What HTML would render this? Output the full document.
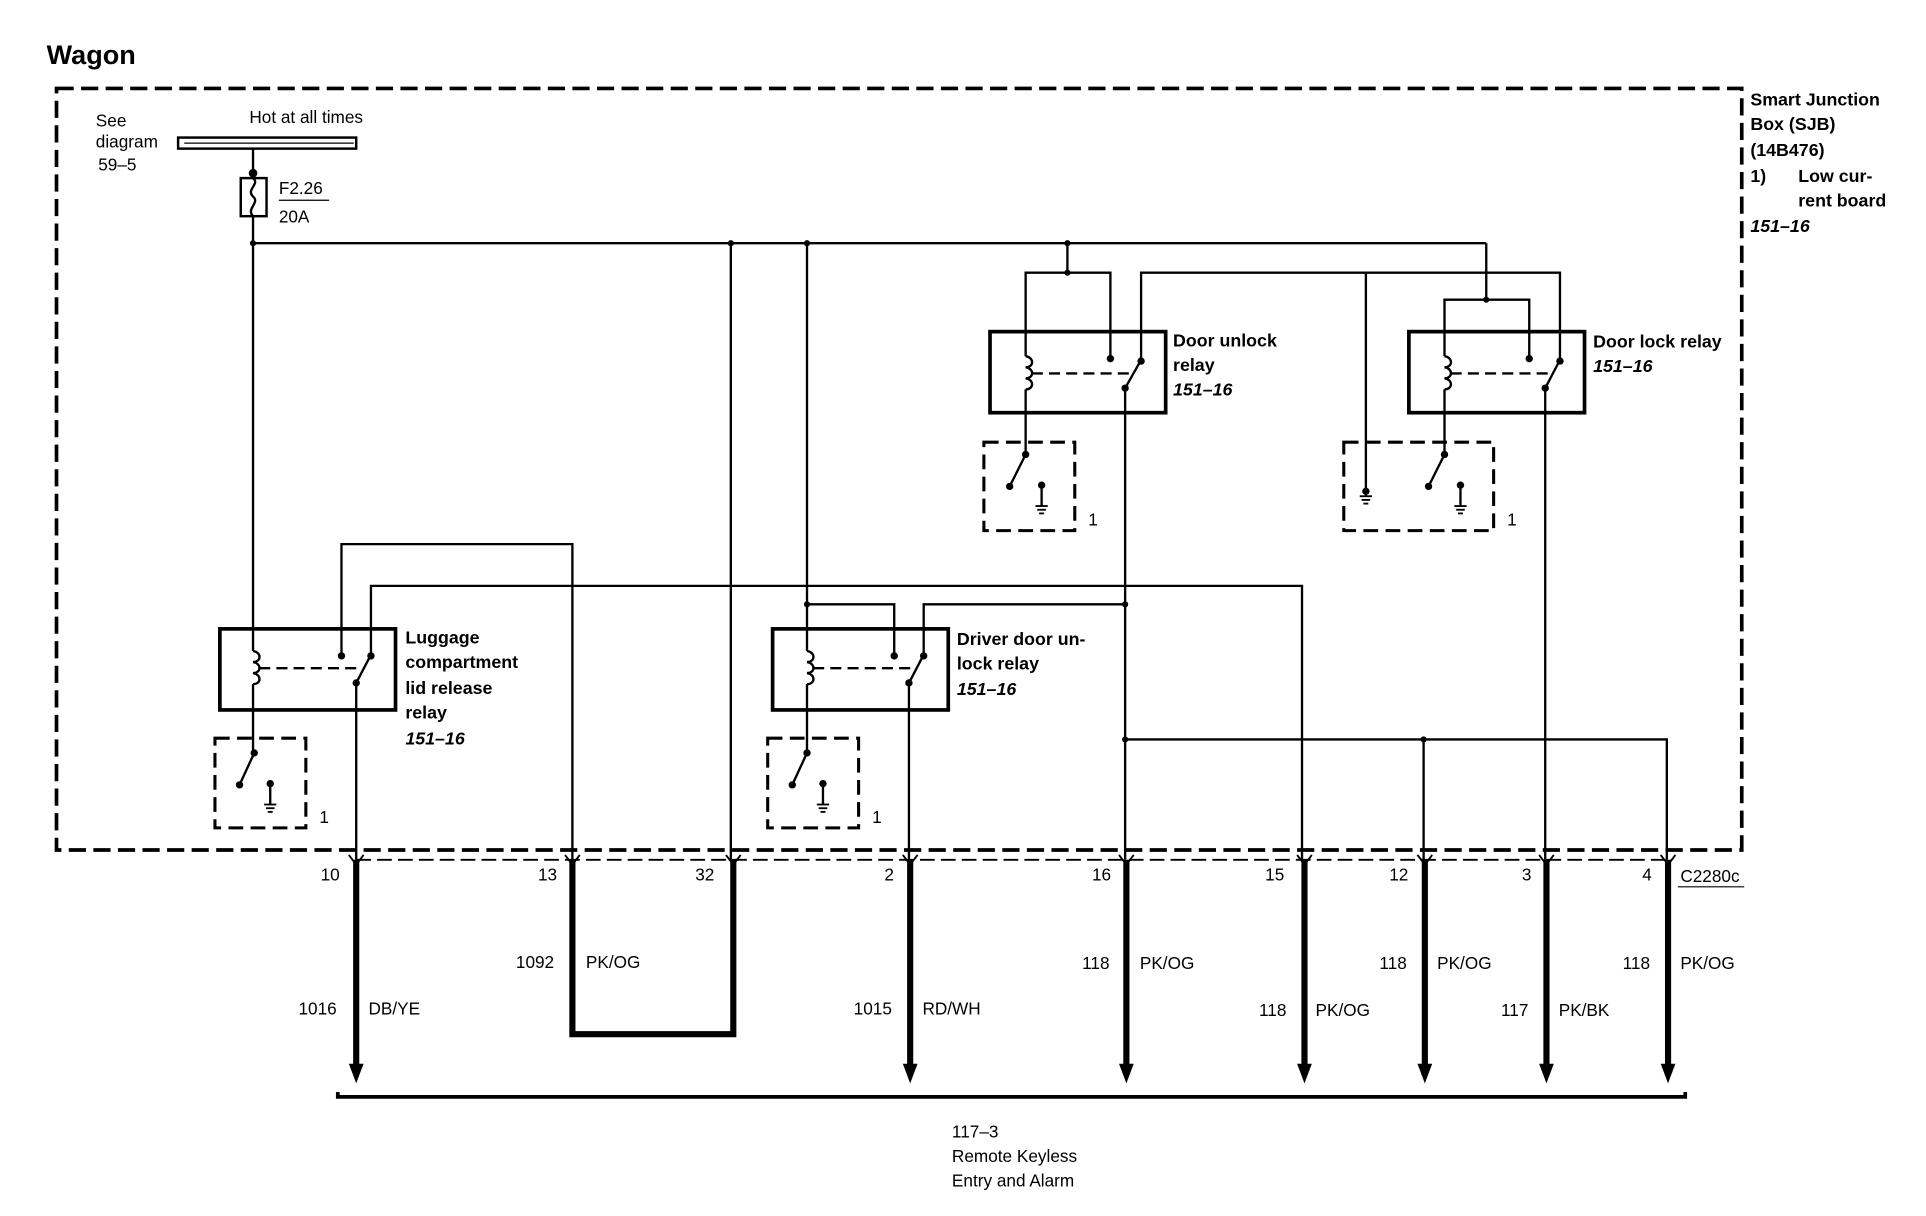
<!DOCTYPE html>
<html><head><meta charset="utf-8"><style>
html,body{margin:0;padding:0;background:#fff;}
svg{display:block;}
text{font-family:"Liberation Sans",sans-serif;fill:#000;}
.b{font-weight:bold;}
.i{font-weight:bold;font-style:italic;}
</style></head><body>
<svg width="1926" height="1216" viewBox="0 0 1568 990" preserveAspectRatio="none" xmlns="http://www.w3.org/2000/svg">
<g fill="none" stroke="#000" stroke-width="1.9">
<rect x="46" y="72" width="1372" height="620" stroke-width="3" stroke-dasharray="14,6"/>
<rect x="145" y="112" width="145" height="9" stroke-width="2"/>
<line x1="150" y1="116.5" x2="288" y2="116.5" stroke-width="1"/>
<line x1="206" y1="121" x2="206" y2="145"/>
<rect x="196" y="145" width="21" height="31" stroke-width="2"/>
<path d="M206 145 c6 5 -6 9 0 15 c6 5 -6 10 0 16"/>
<line x1="206" y1="176" x2="206" y2="530"/>
<line x1="227" y1="163" x2="268" y2="163" stroke-width="1"/>
<line x1="206" y1="198" x2="1210" y2="198"/>
<line x1="595" y1="198" x2="595" y2="700"/>
<line x1="657" y1="198" x2="657" y2="530"/>
<line x1="869" y1="198" x2="869" y2="222"/>
<polyline points="835,290 835,222 904,222 904,290"/>
<line x1="1210" y1="198" x2="1210" y2="244"/>
<polyline points="1176,290 1176,244 1245,244 1245,290"/>
<polyline points="929,294 929,222 1112,222 1112,400"/>
<polyline points="1270,294 1270,222 1112,222"/>
<rect x="806" y="270" width="143" height="66" stroke-width="3"/>
<path d="M835 290 c7 1 7 9 0 9 c7 1 7 9 0 9 c7 1 7 9 0 9"/>
<line x1="835" y1="317" x2="835" y2="370"/>
<line x1="840" y1="304" x2="922" y2="304" stroke-dasharray="9,5"/>
<line x1="929" y1="293" x2="916" y2="316"/>
<line x1="916" y1="316" x2="916" y2="700"/>
<rect x="1147" y="270" width="143" height="66" stroke-width="3"/>
<path d="M1176 290 c7 1 7 9 0 9 c7 1 7 9 0 9 c7 1 7 9 0 9"/>
<line x1="1176" y1="317" x2="1176" y2="370"/>
<line x1="1181" y1="304" x2="1263" y2="304" stroke-dasharray="9,5"/>
<line x1="1270" y1="293" x2="1258" y2="316"/>
<line x1="1258" y1="316" x2="1258" y2="700"/>
<rect x="801" y="360" width="74" height="72" stroke-width="2.5" stroke-dasharray="12,6"/>
<line x1="835" y1="370" x2="822" y2="396"/>
<line x1="848" y1="395" x2="848" y2="412"/>
<rect x="1094" y="360" width="122" height="72" stroke-width="2.5" stroke-dasharray="12,6"/>
<line x1="1176" y1="370" x2="1163" y2="396"/>
<line x1="1189" y1="395" x2="1189" y2="412"/>
<polyline points="278,532 278,443 466,443 466,700"/>
<polyline points="302,532 302,477 1060,477 1060,700"/>
<rect x="179" y="512" width="143" height="66" stroke-width="3"/>
<path d="M206 530 c7 1 7 9 0 9 c7 1 7 9 0 9 c7 1 7 9 0 9"/>
<line x1="206" y1="557" x2="206" y2="612"/>
<line x1="211" y1="544" x2="295" y2="544" stroke-dasharray="9,5"/>
<line x1="302" y1="533" x2="290" y2="556"/>
<line x1="290" y1="556" x2="290" y2="700"/>
<polyline points="657,492 728,492 728,532"/>
<polyline points="752,532 752,492 916,492"/>
<rect x="629" y="512" width="143" height="66" stroke-width="3"/>
<path d="M657 530 c7 1 7 9 0 9 c7 1 7 9 0 9 c7 1 7 9 0 9"/>
<line x1="657" y1="557" x2="657" y2="612"/>
<line x1="662" y1="544" x2="745" y2="544" stroke-dasharray="9,5"/>
<line x1="752" y1="533" x2="740" y2="556"/>
<line x1="740" y1="556" x2="740" y2="700"/>
<polyline points="916,602 1357,602 1357,700"/>
<line x1="1159" y1="602" x2="1159" y2="700"/>
<rect x="175" y="601" width="74" height="73" stroke-width="2.5" stroke-dasharray="12,6"/>
<line x1="207" y1="613" x2="195" y2="639"/>
<line x1="220" y1="638" x2="220" y2="655"/>
<rect x="625" y="601" width="74" height="73" stroke-width="2.5" stroke-dasharray="12,6"/>
<line x1="657" y1="613" x2="645" y2="639"/>
<line x1="670" y1="638" x2="670" y2="655"/>
<line x1="290" y1="700" x2="1360" y2="700" stroke-dasharray="12,5" stroke-width="1.5"/>
<line x1="1366" y1="722" x2="1420" y2="722" stroke-width="1"/>
<g stroke-width="5">
<line x1="290" y1="700" x2="290" y2="868"/>
<line x1="741" y1="700" x2="741" y2="868"/>
<line x1="917" y1="700" x2="917" y2="868"/>
<line x1="1062" y1="700" x2="1062" y2="868"/>
<line x1="1160" y1="700" x2="1160" y2="868"/>
<line x1="1259" y1="700" x2="1259" y2="868"/>
<line x1="1358" y1="700" x2="1358" y2="868"/>
<polyline points="466,700 466,842 597,842 597,700"/>
</g>
<g stroke-width="1.5">
<polyline points="284,696 290,704 296,696"/><polyline points="735,696 741,704 747,696"/>
<polyline points="911,696 917,704 923,696"/><polyline points="1056,696 1062,704 1068,696"/>
<polyline points="1154,696 1160,704 1166,696"/><polyline points="1253,696 1259,704 1265,696"/>
<polyline points="1352,696 1358,704 1364,696"/><polyline points="460,696 466,704 472,696"/>
<polyline points="591,696 597,704 603,696"/>
</g>
<polyline points="275,889 275,893 1372,893 1372,889" stroke-width="3"/>
</g>
<g fill="#000">
<polygon points="284,866 296,866 290,882"/><polygon points="735,866 747,866 741,882"/>
<polygon points="911,866 923,866 917,882"/><polygon points="1056,866 1068,866 1062,882"/>
<polygon points="1154,866 1166,866 1160,882"/><polygon points="1253,866 1265,866 1259,882"/>
<polygon points="1352,866 1364,866 1358,882"/>
<circle cx="206" cy="141" r="3.5"/><circle cx="206" cy="198" r="2.5"/><circle cx="595" cy="198" r="2.5"/>
<circle cx="657" cy="198" r="2.5"/><circle cx="869" cy="198" r="2.5"/><circle cx="869" cy="222" r="2.5"/>
<circle cx="1210" cy="244" r="2.5"/><circle cx="657" cy="492" r="2.5"/><circle cx="916" cy="492" r="2.5"/>
<circle cx="916" cy="602" r="2.5"/><circle cx="1159" cy="602" r="2.5"/>
<circle cx="904" cy="292" r="3"/><circle cx="929" cy="294" r="3"/><circle cx="916" cy="316" r="3"/>
<circle cx="1245" cy="292" r="3"/><circle cx="1270" cy="294" r="3"/><circle cx="1258" cy="316" r="3"/>
<circle cx="278" cy="534" r="3"/><circle cx="302" cy="534" r="3"/><circle cx="290" cy="556" r="3"/>
<circle cx="728" cy="534" r="3"/><circle cx="752" cy="534" r="3"/><circle cx="740" cy="556" r="3"/>
<circle cx="835" cy="370" r="3"/><circle cx="822" cy="396" r="3"/><circle cx="848" cy="395" r="3"/>
<circle cx="1176" cy="370" r="3"/><circle cx="1163" cy="396" r="3"/><circle cx="1189" cy="395" r="3"/>
<circle cx="1112" cy="400" r="3"/>
<circle cx="207" cy="613" r="3"/><circle cx="195" cy="639" r="3"/><circle cx="220" cy="638" r="3"/>
<circle cx="657" cy="613" r="3"/><circle cx="645" cy="639" r="3"/><circle cx="670" cy="638" r="3"/>
</g>
<g stroke="#000" stroke-width="1.5">
<g transform="translate(848,412)"><line x1="-5" y1="0" x2="5" y2="0"/><line x1="-3.5" y1="3" x2="3.5" y2="3"/><line x1="-2" y1="6" x2="2" y2="6"/></g>
<g transform="translate(1189,412)"><line x1="-5" y1="0" x2="5" y2="0"/><line x1="-3.5" y1="3" x2="3.5" y2="3"/><line x1="-2" y1="6" x2="2" y2="6"/></g>
<g transform="translate(1112,400)"><line x1="0" y1="0" x2="0" y2="4"/><line x1="-5" y1="4" x2="5" y2="4"/><line x1="-3.5" y1="7" x2="3.5" y2="7"/><line x1="-2" y1="10" x2="2" y2="10"/></g>
<g transform="translate(220,655)"><line x1="-5" y1="0" x2="5" y2="0"/><line x1="-3.5" y1="3" x2="3.5" y2="3"/><line x1="-2" y1="6" x2="2" y2="6"/></g>
<g transform="translate(670,655)"><line x1="-5" y1="0" x2="5" y2="0"/><line x1="-3.5" y1="3" x2="3.5" y2="3"/><line x1="-2" y1="6" x2="2" y2="6"/></g>
</g>
<text x="38" y="52" font-size="22" class="b">Wagon</text>
<g font-size="14">
<text x="78" y="103">See</text><text x="78" y="120">diagram</text><text x="80" y="139">59–5</text>
<text x="203" y="100">Hot at all times</text>
<text x="227" y="158">F2.26</text><text x="227" y="181">20A</text>
<text x="886" y="428">1</text><text x="1227" y="428">1</text>
<text x="260" y="670">1</text><text x="710" y="670">1</text>
<text x="261" y="717">10</text><text x="438" y="717">13</text><text x="566" y="717">32</text>
<text x="720" y="717">2</text><text x="889" y="717">16</text><text x="1030" y="717">15</text>
<text x="1131" y="717">12</text><text x="1239" y="717">3</text><text x="1337" y="717">4</text>
<text x="1368" y="718">C2280c</text>
<text x="420" y="788">1092</text><text x="477" y="788">PK/OG</text>
<text x="243" y="826">1016</text><text x="300" y="826">DB/YE</text>
<text x="695" y="826">1015</text><text x="751" y="826">RD/WH</text>
<text x="881" y="789">118</text><text x="928" y="789">PK/OG</text>
<text x="1025" y="827">118</text><text x="1071" y="827">PK/OG</text>
<text x="1123" y="789">118</text><text x="1170" y="789">PK/OG</text>
<text x="1222" y="827">117</text><text x="1269" y="827">PK/BK</text>
<text x="1321" y="789">118</text><text x="1368" y="789">PK/OG</text>
<text x="775" y="926">117–3</text><text x="775" y="946">Remote Keyless</text><text x="775" y="966">Entry and Alarm</text>
</g>
<g font-size="14.5">
<text x="955" y="282" class="b">Door unlock</text><text x="955" y="302" class="b">relay</text><text x="955" y="322" class="i">151–16</text>
<text x="1297" y="283" class="b">Door lock relay</text><text x="1297" y="303" class="i">151–16</text>
<text x="330" y="524" class="b">Luggage</text><text x="330" y="544" class="b">compartment</text><text x="330" y="565" class="b">lid release</text><text x="330" y="585" class="b">relay</text><text x="330" y="606" class="i">151–16</text>
<text x="779" y="525" class="b">Driver door un-</text><text x="779" y="545" class="b">lock relay</text><text x="779" y="566" class="i">151–16</text>
<text x="1425" y="86" class="b">Smart Junction</text><text x="1425" y="106" class="b">Box (SJB)</text><text x="1425" y="127" class="b">(14B476)</text>
<text x="1425" y="148" class="b">1)</text><text x="1464" y="148" class="b">Low cur-</text><text x="1464" y="168" class="b">rent board</text><text x="1425" y="189" class="i">151–16</text>
</g>
</svg>
</body></html>
